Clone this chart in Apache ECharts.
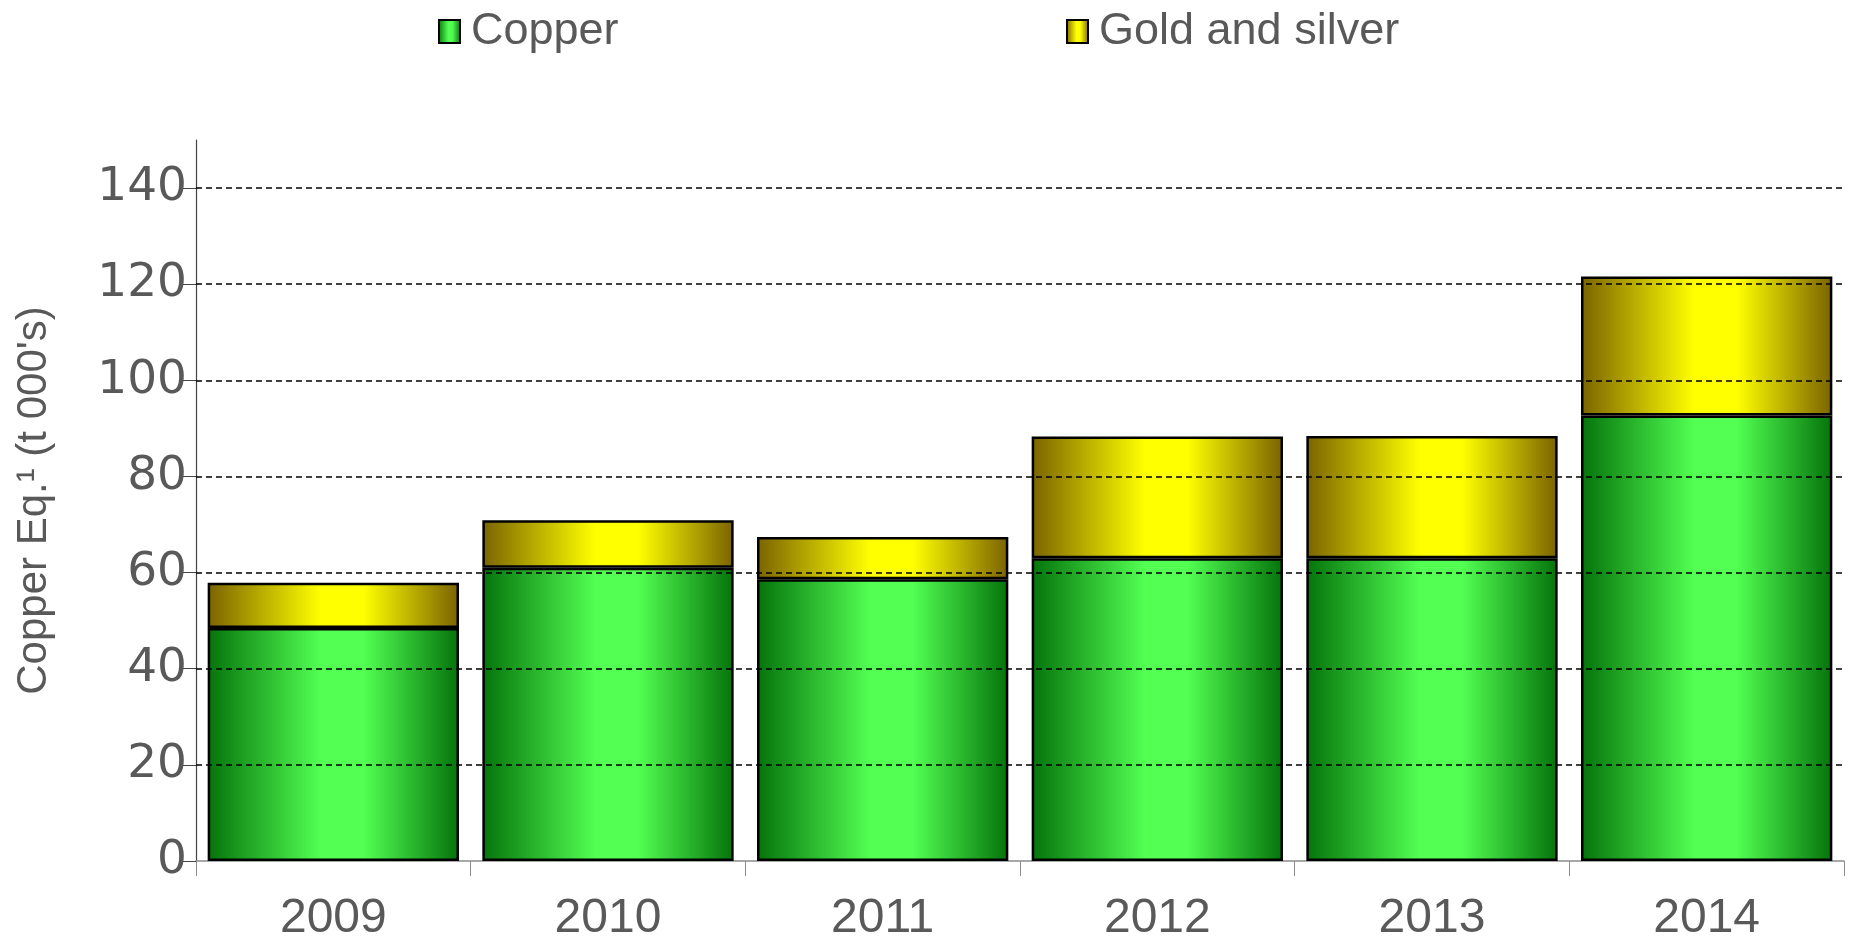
<!DOCTYPE html>
<html>
<head>
<meta charset="utf-8">
<script src="https://cdn.jsdelivr.net/npm/echarts@6/dist/echarts.min.js"></script>
<style>html,body{margin:0;padding:0;background:#fff}#c{width:1850px;height:941px}</style>
</head>
<body>
<div id="c"></div>
<script>
const categories = ['2009', '2010', '2011', '2012', '2013', '2014'];
const copper = [48.5, 61.0, 58.6, 63.0, 63.0, 92.7];
const goldSilver = [9.4, 9.9, 8.8, 25.3, 25.4, 28.9];
const yTicks = [0, 20, 40, 60, 80, 100, 120, 140];
const seriesNames = ['Copper', 'Gold and silver'];

function grad(dark, bright) {
  return {
    type: 'linear', x: 0, y: 0, x2: 1, y2: 0,
    colorStops: [
      { offset: 0, color: dark },
      { offset: 0.45, color: bright },
      { offset: 0.62, color: bright },
      { offset: 1, color: dark }
    ]
  };
}
const textColor = '#595959';
const legendText = { fontSize: 45, color: textColor, fontFamily: 'Liberation Sans', padding: [0, 0, 0, 6] };
const chart = echarts.init(document.getElementById('c'));
chart.setOption({
  animation: false,
  legend: [
    { data: [seriesNames[0]], icon: 'rect', left: 433, top: 4, itemWidth: 21, itemHeight: 23, itemGap: 0, textStyle: legendText },
    { data: [seriesNames[1]], icon: 'rect', left: 1061, top: 4, itemWidth: 21, itemHeight: 23, itemGap: 0, textStyle: legendText }
  ],
  grid: { left: 196, right: 6, top: 140, bottom: 80, containLabel: false, outerBoundsMode: 'none' },
  xAxis: {
    type: 'category', data: categories,
    axisLine: { lineStyle: { color: '#8c8c8c', width: 1.5 } },
    axisTick: { show: true, length: 15, lineStyle: { color: '#8c8c8c', width: 1 } },
    axisLabel: { margin: 34, fontSize: 48, color: textColor, fontFamily: 'Liberation Sans' }
  },
  yAxis: {
    type: 'value', min: 0, max: 150, interval: 10,
    name: "Copper Eq.\u00b9 (t 000's)", nameLocation: 'middle', nameRotate: 90, nameGap: 141,
    nameTextStyle: { fontSize: 42, color: textColor, fontFamily: 'Liberation Sans' },
    axisLine: { show: true, lineStyle: { color: '#444', width: 1.2 } },
    axisTick: { show: true, length: 13, customValues: yTicks, lineStyle: { color: '#444', width: 1 } },
    axisLabel: { margin: 9, fontSize: 47, color: textColor, fontFamily: 'DejaVu Sans', customValues: yTicks },
    splitLine: { show: false }
  },
  series: [
    {
      type: 'line', data: [], silent: true, z: 1,
      markLine: {
        silent: true, symbol: 'none', label: { show: false },
        lineStyle: { color: '#000', type: [6, 4], width: 1.7 },
        data: yTicks.filter(v => v > 0).map(v => ({ yAxis: v }))
      }
    },
    {
      name: seriesNames[0], type: 'bar', stack: 'a', data: copper, z: 3,
      barCategoryGap: '8.5%',
      itemStyle: { color: grad('#05730b', '#52ff52'), borderColor: '#000', borderWidth: 2.5 }
    },
    {
      name: seriesNames[1], type: 'bar', stack: 'a', data: goldSilver, z: 3,
      itemStyle: { color: grad('#7a6300', '#ffff00'), borderColor: '#000', borderWidth: 2.5 }
    }
  ]
});
</script>
</body>
</html>
